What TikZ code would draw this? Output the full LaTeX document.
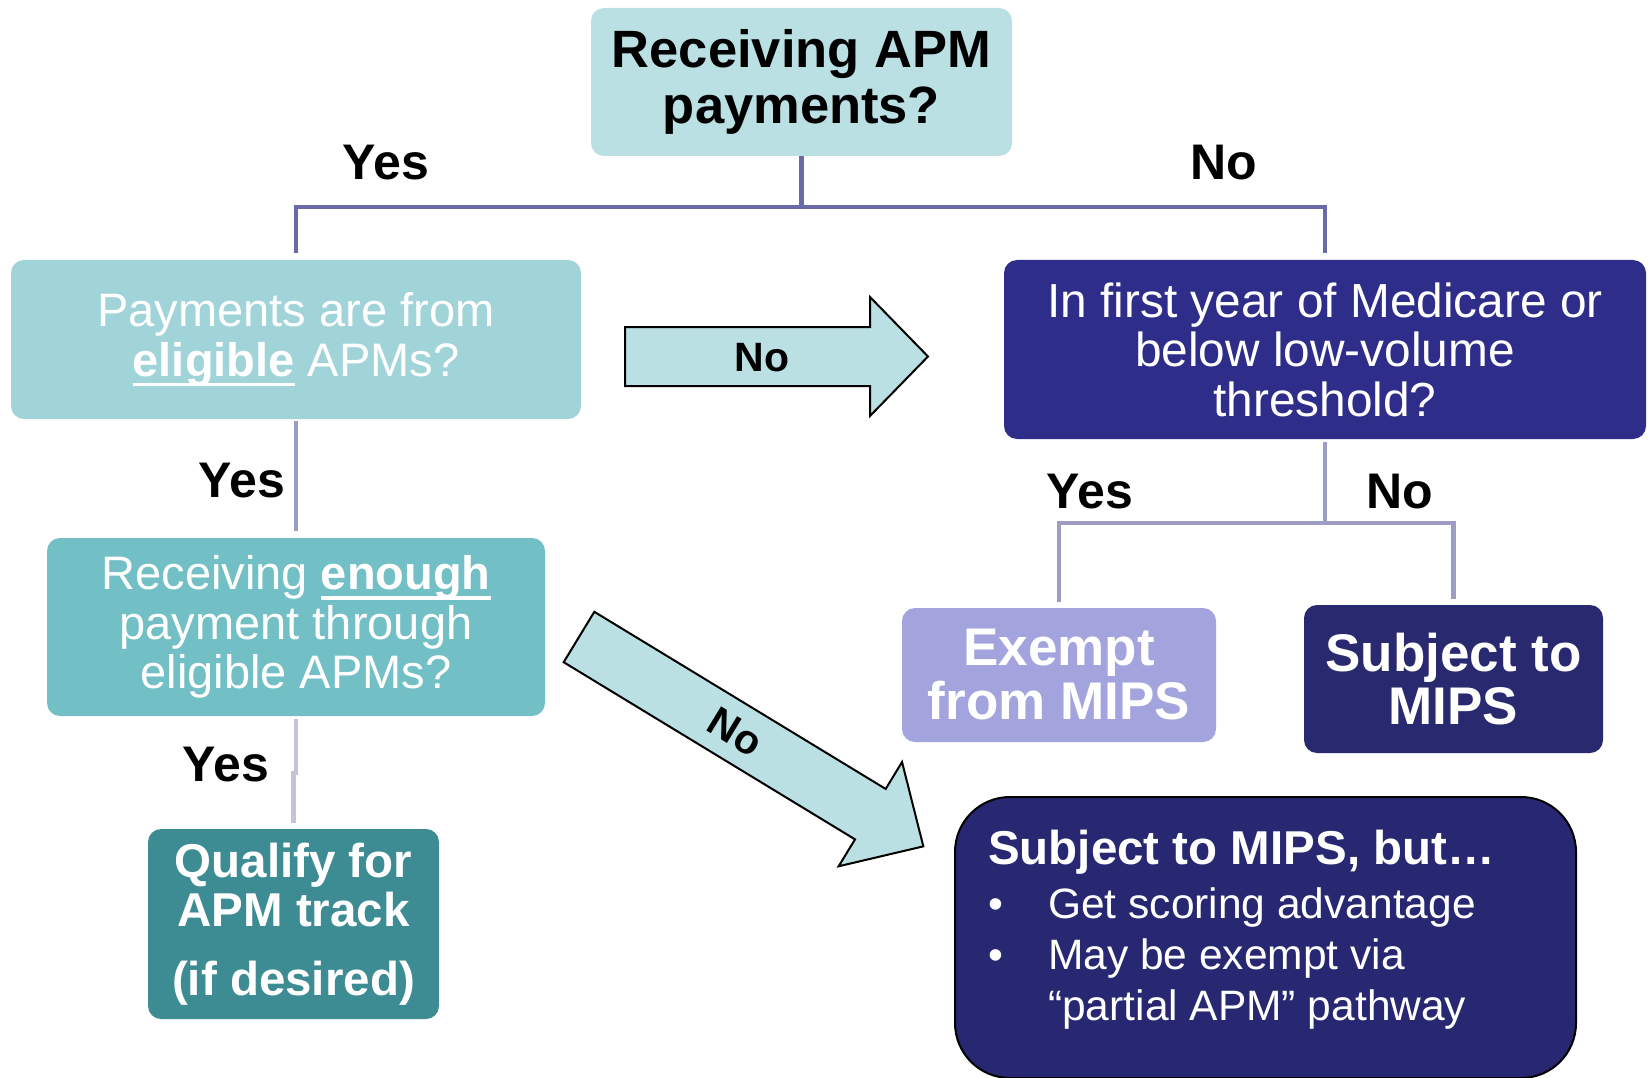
\documentclass[tikz,border=0pt]{standalone}
\usepackage{fontspec}
\setmainfont{Liberation Sans}
\definecolor{apmlight}{HTML}{BBE0E3}
\definecolor{paybox}{HTML}{A0D4D9}
\definecolor{enoughbox}{HTML}{72BFC5}
\definecolor{trackbox}{HTML}{3E8C93}
\definecolor{firstbox}{HTML}{2E2E8A}
\definecolor{exemptbox}{HTML}{A3A3DD}
\definecolor{subjbox}{HTML}{29296F}
\definecolor{butbox}{HTML}{282872}
\definecolor{treetop}{HTML}{6A6AAA}
\definecolor{treemid}{HTML}{9C9CC8}
\definecolor{treelow}{HTML}{C3C3DA}
\definecolor{treeright}{HTML}{9D9DC3}
% thick white underline under one word
\newcommand{\ulword}[1]{\setbox0=\hbox{\bfseries #1}\leavevmode\rlap{\rule[-10pt]{\wd0}{3.5pt}}\box0\relax}
\begin{document}
\begin{tikzpicture}[x=1pt,y=-1pt,
    box/.style={rounded corners=13pt, align=center, inner sep=0pt},
    tree/.style={line width=4.5pt},
    lab/.style={font=\fontsize{50}{56}\selectfont\bfseries},
    bigarrow/.style={fill=apmlight, draw=black, line width=2pt, line join=miter}]
    \useasboundingbox (0,0) rectangle (1650,1078);

    % question boxes
    \node[box, fill=apmlight, minimum width=421pt, minimum height=148pt,
        font=\fontsize{52.5}{56}\selectfont\bfseries] (apm) at (801.5,82) {Receiving APM\\payments?};
    \node[box, fill=paybox, text=white, minimum width=570pt, minimum height=159pt,
        font=\fontsize{47}{49.5}\selectfont] (pay) at (296,339.5) {Payments are from\\\ulword{eligible} APMs?};
    \node[box, fill=enoughbox, text=white, minimum width=498pt, minimum height=178pt,
        font=\fontsize{47}{49.5}\selectfont] (enough) at (296,627) {Receiving \ulword{enough}\\payment through\\eligible APMs?};
    \node[box, fill=firstbox, text=white, minimum width=642pt, minimum height=179pt,
        font=\fontsize{47.8}{49.5}\selectfont] (first) at (1325,349.5) {In first year of Medicare or\\below low-volume\\threshold?};

    % outcome boxes
    \node[box, fill=trackbox, text=white, minimum width=291pt, minimum height=190pt,
        font=\fontsize{47.5}{49}\selectfont\bfseries] (track) at (293.5,924) {Qualify for\\APM track\\[20pt](if desired)};
    \node[box, fill=exemptbox, text=white, minimum width=314pt, minimum height=134pt,
        font=\fontsize{53}{54}\selectfont\bfseries] (exempt) at (1059,675) {Exempt\\from MIPS};
    \node[box, fill=subjbox, text=white, minimum width=299pt, minimum height=148pt,
        font=\fontsize{53}{53}\selectfont\bfseries] (subj) at (1453.5,679) {Subject to\\MIPS};
    \node[box, rounded corners=55pt, fill=butbox, draw=black, line width=2pt,
        minimum width=621pt, minimum height=281pt] (but) at (1265.5,937.5) {};
    \node[anchor=north west, align=left, inner sep=0pt, text=white,
        font=\fontsize{42.5}{51}\selectfont] (butlist) at ([xshift=34pt,yshift=-34pt]but.north west)
        {{\fontsize{47.5}{51}\selectfont\bfseries Subject to MIPS, but…}\\[3pt]
         \makebox[60pt][l]{\textbullet}Get scoring advantage\\
         \makebox[60pt][l]{\textbullet}May be exempt via\\
         \hspace*{60pt}“partial APM” pathway};

    % tree lines
    \draw[tree, draw=treetop] (apm.south) -- ++(0,51) -| ([yshift=7pt]pay.north);
    \draw[tree, draw=treetop] (apm.south) -- ++(0,51) -| ([yshift=7pt]first.north);
    \draw[tree, draw=treemid] ([yshift=-2pt]pay.south) -- ([yshift=7pt]enough.north);
    \draw[tree, draw=treelow] ([yshift=-3pt]enough.south) -- ++(0,54) -| ([yshift=6pt]track.north);
    \draw[tree, draw=treeright] ([yshift=-3pt]first.south) -- ++(0,81) coordinate (split) -| ([yshift=6pt]exempt.north);
    \draw[tree, draw=treeright] (split) -| ([yshift=6pt]subj.north);

    \node[lab] (yestop) at (386,163) {Yes};
    \node[lab] (notop) at (1224,163) {No};
    \node[lab] (yesmid) at (242,481) {Yes};
    \node[lab] (yeslow) at (226,765) {Yes};
    \node[lab] (yesright) at (1090,492) {Yes};
    \node[lab] (noright) at (1400,492) {No};

    % block arrows
    \draw[bigarrow] (625,327) -- (870,327) -- (870,297) -- (928,356.5) -- (870,416) -- (870,386) -- (625,386) -- cycle;
    \node[font=\fontsize{41}{44}\selectfont\bfseries] (noside) at (762,358) {No};
    \begin{scope}[shift={(579,637)}, rotate=-31.3]
        \draw[bigarrow] (0,-29.5) -- (341,-29.5) -- (341,-61) -- (403,0) -- (341,61) -- (341,29.5) -- (0,29.5) -- cycle;
        \node[transform shape, font=\fontsize{41}{44}\selectfont\bfseries] (nodown) at (183,0) {No};
    \end{scope}
\end{tikzpicture}
\end{document}
